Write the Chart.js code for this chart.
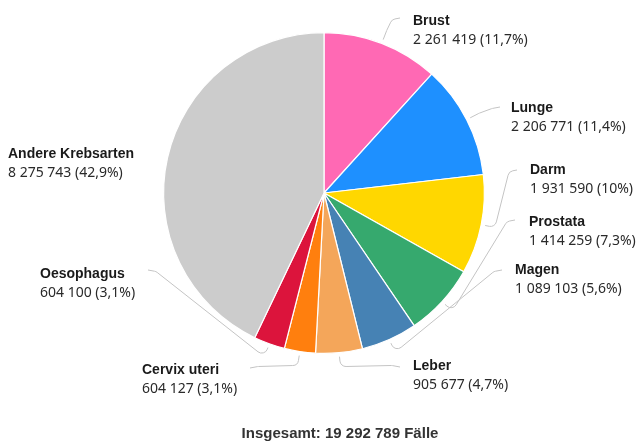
<!DOCTYPE html>
<html>
<head>
<meta charset="utf-8">
<script src="https://cdn.jsdelivr.net/npm/chart.js@4"></script>
<style>
body{margin:0;background:#fff;}
#wrap{width:636px;height:444px;position:relative;}
</style>
</head>
<body>
<div id="wrap"><canvas id="pieChart" width="636" height="444"></canvas></div>
<script>
const categories = ["Brust","Lunge","Darm","Prostata","Magen","Leber","Cervix uteri","Oesophagus","Andere Krebsarten"];
const cases = [2261419,2206771,1931590,1414259,1089103,905677,604127,604100,8275743];
const colors = ["#ff69b4","#1e90ff","#ffd700","#36a96e","#4682b4","#f4a65a","#ff7f0e","#dc143c","#cccccc"];

// label placement (text left edge, first line middle) and where each leader line ends
const labelX = [413,511,530,529,515,413,142,40,8];
const labelY = [21,108,170,222,270,366,370,274,154];
const lineEnd = [[400,18],[500,107],[517,170],[515,220],[502,270],[400,367],[250,368],[148,270],null];

const total = cases.reduce((a,b)=>a+b,0);

function fmtNum(n){
  return String(n).replace(/\B(?=(\d{3})+(?!\d))/g," ");
}
function fmtPct(v){
  let s = (v/total*100).toFixed(1).replace(".",",");
  if(s.endsWith(",0")) s = s.slice(0,-2);
  return s+"%";
}

const labelPlugin = {
  id:"pieLabels",
  afterDraw(chart){
    const ctx = chart.ctx;
    const arcs = chart.getDatasetMeta(0).data;
    ctx.save();
    arcs.forEach((arc,i)=>{
      const mid = (arc.startAngle+arc.endAngle)/2;
      const r = arc.outerRadius;
      if(lineEnd[i]){
        const p0 = [arc.x+Math.cos(mid)*(r+4), arc.y+Math.sin(mid)*(r+4)];
        const p1 = [arc.x+Math.cos(mid)*(r+14), arc.y+Math.sin(mid)*(r+14)];
        const p3 = lineEnd[i];
        const dir = p3[0] > p1[0] ? -1 : 1;
        const p2 = [p3[0]+dir*8, p3[1]+ (p3[1]>p1[1]? -1: 1)*1.5];
        ctx.beginPath();
        ctx.moveTo(p0[0],p0[1]);
        ctx.arcTo(p1[0],p1[1],p2[0],p2[1],6);
        ctx.arcTo(p2[0],p2[1],p3[0],p3[1],6);
        ctx.lineTo(p3[0],p3[1]);
        ctx.strokeStyle="#c4c4c4";
        ctx.lineWidth=1;
        ctx.stroke();
      }
      ctx.textAlign="left";
      ctx.textBaseline="middle";
      ctx.fillStyle="#1a1a1a";
      ctx.font="bold 14px 'Liberation Sans', Arial, sans-serif";
      ctx.fillText(categories[i], labelX[i], labelY[i]);
      ctx.fillStyle="#2a2a2a";
      ctx.font="14px 'Noto Sans', sans-serif";
      ctx.fillText(fmtNum(cases[i])+" ("+fmtPct(cases[i])+")", labelX[i], labelY[i]+19);
    });
    ctx.textAlign="center";
    ctx.fillStyle="#333";
    ctx.font="bold 15px 'Liberation Sans', Arial, sans-serif";
    ctx.fillText("Insgesamt: "+fmtNum(total)+" Fälle", 340, 434);
    ctx.restore();
  }
};

new Chart(document.getElementById("pieChart"), {
  type:"pie",
  data:{
    labels:categories,
    datasets:[{
      data:cases,
      backgroundColor:colors,
      borderColor:"#ffffff",
      borderWidth:1.2
    }]
  },
  options:{
    responsive:false,
    animation:false,
    layout:{padding:{left:12,right:0,top:32,bottom:90}},
    plugins:{
      legend:{display:false},
      tooltip:{enabled:false}
    }
  },
  plugins:[labelPlugin]
});
</script>
</body>
</html>
